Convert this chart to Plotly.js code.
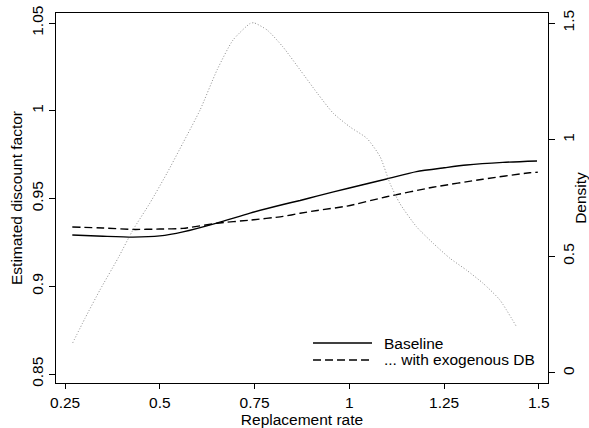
<!DOCTYPE html>
<html>
<head>
<meta charset="utf-8">
<script src="https://cdn.plot.ly/plotly-3.0.1.min.js"></script>
<style>html,body{margin:0;padding:0;background:#fff;}#chart{width:589px;height:428px;}</style>
</head>
<body>
<div id="chart"></div>
<script>
// Baseline series
var baseRate = [0.269, 0.35, 0.429, 0.50, 0.561, 0.65, 0.738, 0.825, 0.870, 0.914, 1.0, 1.098, 1.177, 1.25, 1.309, 1.405, 1.495];
var baseDF   = [0.9292, 0.9285, 0.928, 0.9287, 0.931, 0.936, 0.9417, 0.9466, 0.9489, 0.9514, 0.956, 0.9611, 0.9653, 0.9675, 0.9691, 0.9706, 0.9714];
// ... with exogenous DB
var exoRate = [0.269, 0.35, 0.429, 0.50, 0.561, 0.650, 0.738, 0.825, 0.870, 0.915, 0.994, 1.098, 1.220, 1.352, 1.476, 1.497];
var exoDF   = [0.9338, 0.9332, 0.9324, 0.9326, 0.933, 0.9359, 0.9377, 0.9398, 0.9416, 0.9432, 0.9457, 0.951, 0.9564, 0.961, 0.9647, 0.965];
// Density of replacement rate (right axis)
var densRate = [0.270, 0.303, 0.342, 0.390, 0.429, 0.474, 0.519, 0.561, 0.606, 0.651, 0.693, 0.738, 0.748, 0.783, 0.825, 0.870, 0.915, 0.957, 1.002, 1.046, 1.081, 1.107, 1.133, 1.177, 1.221, 1.265, 1.309, 1.353, 1.397, 1.441];
var densVal  = [0.129, 0.236, 0.356, 0.493, 0.613, 0.729, 0.857, 0.986, 1.127, 1.299, 1.427, 1.498, 1.501, 1.470, 1.397, 1.299, 1.200, 1.114, 1.054, 1.006, 0.927, 0.813, 0.727, 0.627, 0.556, 0.492, 0.441, 0.384, 0.313, 0.198];

var xTicks = [0.25, 0.5, 0.75, 1, 1.25, 1.5];
var xTickText = ['0.25', '0.5', '0.75', '1', '1.25', '1.5'];
var yTicks = [0.85, 0.9, 0.95, 1, 1.05];
var yTickText = ['0.85', '0.9', '0.95', '1', '1.05'];
var y2Ticks = [0, 0.5, 1, 1.5];
var y2TickText = ['0', '0.5', '1', '1.5'];
var seriesNames = ['Baseline', '... with exogenous DB'];

var FONT = 'Liberation Sans, Arial, sans-serif';
var FS = 15.5;

var traces = [
  {x: densRate, y: densVal, yaxis: 'y2', mode: 'lines', name: 'Density', showlegend: false,
   line: {color: '#8c8c8c', width: 1, dash: '1px,2px', shape: 'spline', smoothing: 0.6}, hoverinfo: 'skip'},
  {x: baseRate, y: baseDF, mode: 'lines', name: seriesNames[0], showlegend: false,
   line: {color: '#000', width: 1.4, shape: 'spline', smoothing: 0.6}},
  {x: exoRate, y: exoDF, mode: 'lines', name: seriesNames[1], showlegend: false,
   line: {color: '#000', width: 1.4, dash: '8px,4px', shape: 'spline', smoothing: 0.6}}
];

var layout = {
  width: 589, height: 428,
  margin: {l: 56, r: 41, t: 13, b: 45},
  paper_bgcolor: '#fff', plot_bgcolor: '#fff',
  font: {family: FONT, size: FS, color: '#000'},
  showlegend: false,
  xaxis: {
    range: [0.226, 1.524], tickvals: xTicks, ticktext: xTickText,
    showgrid: false, zeroline: false, showline: true, mirror: true, linecolor: '#000', linewidth: 1,
    ticks: 'outside', ticklen: 5, tickcolor: '#000', tickfont: {family: FONT, size: FS},
    title: {text: 'Replacement rate', font: {family: FONT, size: FS}, standoff: 3}
  },
  yaxis: {
    range: [0.8449, 1.0557], tickvals: yTicks, ticktext: yTickText, tickangle: -90,
    showgrid: false, zeroline: false, showline: true, mirror: true, linecolor: '#000', linewidth: 1,
    ticks: 'outside', ticklen: 6, tickcolor: '#000', tickfont: {family: FONT, size: FS},
    title: {text: 'Estimated discount factor', font: {family: FONT, size: FS}, standoff: 2}
  },
  yaxis2: {
    overlaying: 'y', side: 'right',
    range: [-0.0429, 1.5429], tickvals: y2Ticks, ticktext: y2TickText, tickangle: -90,
    showgrid: false, zeroline: false, showline: true, linecolor: '#000', linewidth: 1,
    ticks: 'outside', ticklen: 6, tickcolor: '#000', tickfont: {family: FONT, size: FS},
    title: {text: 'Density', font: {family: FONT, size: FS}, standoff: 0}
  },
  shapes: [
    {type: 'line', xref: 'paper', yref: 'paper', x0: 0.5224, x1: 0.6423, y0: 0.1081, y1: 0.1081,
     line: {color: '#000', width: 1.4}},
    {type: 'line', xref: 'paper', yref: 'paper', x0: 0.5224, x1: 0.6423, y0: 0.0622, y1: 0.0622,
     line: {color: '#000', width: 1.4, dash: '8px,4px'}}
  ],
  annotations: [
    {xref: 'paper', yref: 'paper', x: 0.6626, y: 0.1081, xanchor: 'left', yanchor: 'middle',
     text: seriesNames[0], showarrow: false, font: {family: FONT, size: FS, color: '#000'}},
    {xref: 'paper', yref: 'paper', x: 0.6626, y: 0.0622, xanchor: 'left', yanchor: 'middle',
     text: seriesNames[1], showarrow: false, font: {family: FONT, size: FS, color: '#000'}}
  ]
};

Plotly.newPlot('chart', traces, layout, {displayModeBar: false, staticPlot: true});
</script>
</body>
</html>
